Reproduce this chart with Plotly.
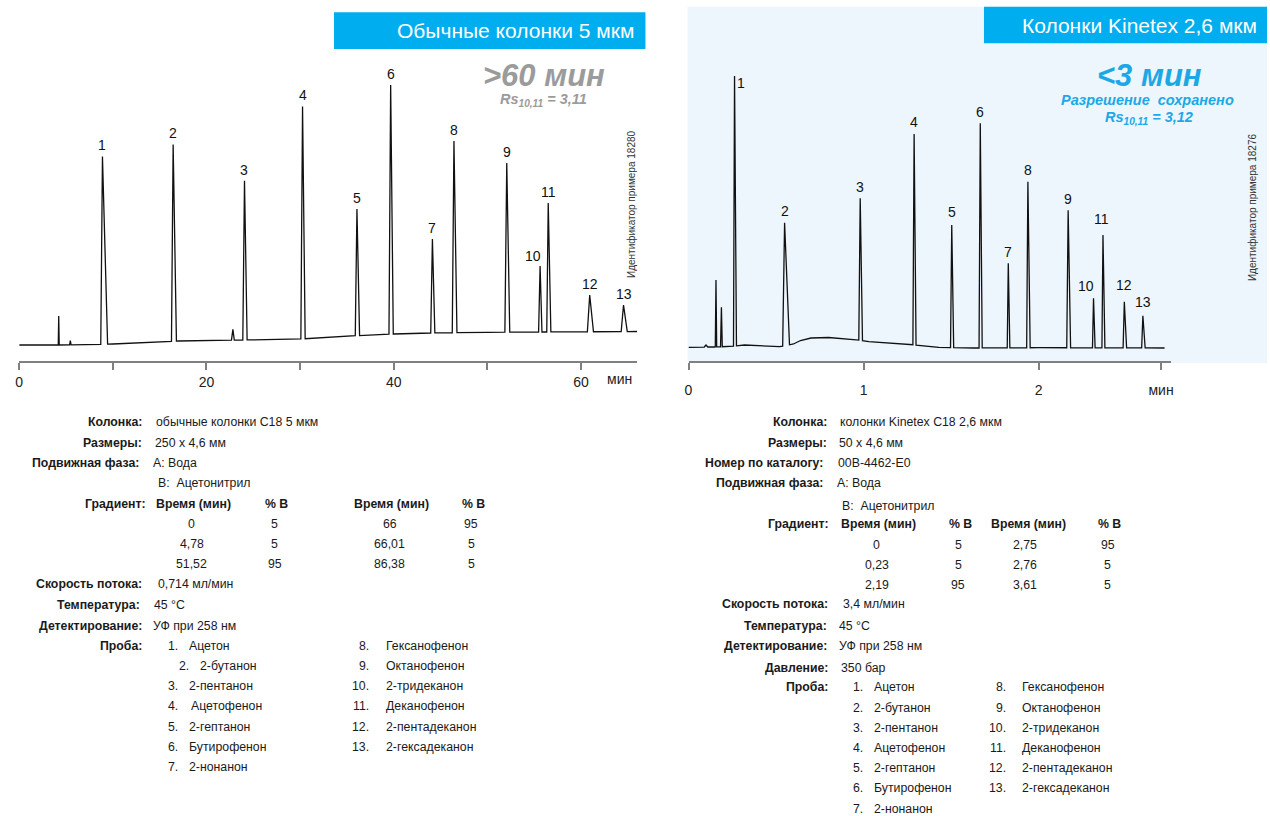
import numpy as np
import plotly.graph_objects as go

W, H = 1270, 816

# ---------------- DATA ----------------
# Left chromatogram (conventional 5 µm column), time in min, signal in arbitrary units
left_peak_labels = ["1", "2", "3", "4", "5", "6", "7", "8", "9", "10", "11", "12", "13"]
left_peak_times = [8.89, 16.44, 24.06, 30.26, 36.07, 39.67, 44.13, 46.43, 52.07, 55.63, 56.50, 60.93, 64.54]
left_peak_apex = [204.5, 216.5, 180.3, 254.5, 152.0, 276.0, 122.0, 220.0, 198.0, 95.0, 158.0, 66.0, 56.0]
left_peak_wl = [0.18, 0.18, 0.18, 0.18, 0.18, 0.18, 0.18, 0.18, 0.20, 0.16, 0.16, 0.25, 0.25]
left_peak_wr = [0.55, 0.35, 0.28, 0.28, 0.28, 0.28, 0.26, 0.32, 0.32, 0.20, 0.28, 0.40, 0.40]
left_minor_times = [4.22, 5.46, 22.82]
left_minor_apex = [45.0, 20.3, 31.7]
left_minor_w = [0.05, 0.08, 0.15]
left_base_t = [0, 4.0, 8.5, 10.0, 17.0, 24.0, 30.0, 36.0, 40.0, 44.0, 50.0, 56.0, 62.0, 66.0]
left_base_y = [16.0, 16.0, 16.5, 17.0, 20.0, 21.0, 22.0, 25.3, 27.0, 28.0, 28.7, 29.0, 29.3, 29.5]

# Right chromatogram (Kinetex 2.6 µm column)
right_peak_labels = ["1", "2", "3", "4", "5", "6", "7", "8", "9", "10", "11", "12", "13"]
right_peak_times = [0.263, 0.549, 0.981, 1.289, 1.504, 1.667, 1.827, 1.939, 2.169, 2.314, 2.368, 2.490, 2.596]
right_peak_apex = [285.0, 138.3, 162.7, 227.0, 136.0, 237.7, 97.7, 179.3, 150.7, 62.7, 126.0, 59.3, 45.3]
right_peak_wl = [0.006, 0.011, 0.008, 0.007, 0.007, 0.007, 0.006, 0.007, 0.008, 0.006, 0.006, 0.007, 0.007]
right_peak_wr = [0.011, 0.028, 0.013, 0.011, 0.011, 0.011, 0.009, 0.013, 0.014, 0.009, 0.011, 0.013, 0.013]
right_minor_times = [0.100, 0.157, 0.188]
right_minor_apex = [16.0, 81.0, 53.7]
right_minor_w = [0.01, 0.004, 0.005]
right_base_t = [0, 0.10, 0.15, 0.24, 0.32, 0.52, 0.60, 0.64, 0.70, 0.80, 0.90, 0.97, 1.03, 1.20, 1.43, 1.63, 2.00, 2.72]
right_base_y = [13.7, 14.0, 14.0, 14.5, 16.0, 14.3, 17.0, 20.5, 23.0, 23.5, 22.0, 21.0, 19.3, 17.7, 13.7, 13.0, 13.3, 13.0]

left_ticks = [0, 20, 40, 60]
left_ticktext = ["0", "20", "40", "60"]
left_minor_ticks = [10, 30, 50]
right_ticks = [0, 1, 2, 2.7]
right_ticktext = ["0", "1", "2", "мин"]

left_title = "Обычные колонки 5 мкм"
right_title = "Колонки Kinetex 2,6 мкм"
left_time_note = "&gt;60 мин"
left_rs = "Rs<sub>10,11</sub> = 3,11"
right_time_note = "&lt;3 мин"
right_res_note = "Разрешение  сохранено"
right_rs = "Rs<sub>10,11</sub> = 3,12"
left_id = "Идентификатор примера 18280"
right_id = "Идентификатор примера 18276"

left_info_labels = ["Колонка:", "Размеры:", "Подвижная фаза:", "Градиент:", "Скорость потока:", "Температура:", "Детектирование:", "Проба:"]
left_info_values = ["обычные колонки C18 5 мкм", "250 x 4,6 мм", "A: Вода", "", "0,714 мл/мин", "45 °C", "УФ при 258 нм", ""]
left_mobile_b = "B:  Ацетонитрил"
left_grad_time1 = ["0", "4,78", "51,52"]
left_grad_b1 = ["5", "5", "95"]
left_grad_time2 = ["66", "66,01", "86,38"]
left_grad_b2 = ["95", "5", "5"]

right_info_labels = ["Колонка:", "Размеры:", "Номер по каталогу:", "Подвижная фаза:", "Градиент:", "Скорость потока:", "Температура:", "Детектирование:", "Давление:", "Проба:"]
right_info_values = ["колонки Kinetex C18 2,6 мкм", "50 x 4,6 мм", "00B-4462-E0", "A: Вода", "", "3,4 мл/мин", "45 °C", "УФ при 258 нм", "350 бар", ""]
right_mobile_b = "B:  Ацетонитрил"
right_grad_time1 = ["0", "0,23", "2,19"]
right_grad_b1 = ["5", "5", "95"]
right_grad_time2 = ["2,75", "2,76", "3,61"]
right_grad_b2 = ["95", "5", "5"]

grad_headers = ["Время (мин)", "% B", "Время (мин)", "% B"]
sample_names = ["Ацетон", "2-бутанон", "2-пентанон", "Ацетофенон", "2-гептанон", "Бутирофенон", "2-нонанон",
                "Гексанофенон", "Октанофенон", "2-тридеканон", "Деканофенон", "2-пентадеканон", "2-гексадеканон"]

# ---------------- HELPERS ----------------
def X(px):
    return px / W

def Y(py):
    return 1 - py / H


def build_trace(base_t, base_y, times, apex, wl, wr):
    windows = [(t - a, t + b) for t, a, b in zip(times, wl, wr)]
    pts = []
    for t, y in zip(base_t, base_y):
        if not any(lo <= t <= hi for lo, hi in windows):
            pts.append((t, y))
    for t, a, l, r in zip(times, apex, wl, wr):
        pts.append((t - l, float(np.interp(t - l, base_t, base_y))))
        pts.append((t, a))
        pts.append((t + r, float(np.interp(t + r, base_t, base_y))))
    pts.sort(key=lambda p: p[0])
    return [p[0] for p in pts], [p[1] for p in pts]


FONT = "Liberation Sans"
NARROW = "Liberation Sans Narrow, Arial Narrow, Liberation Sans"
TXT = "#1a1a1a"
CYAN = "#00AEEF"
BS = 12.3  # info block font size

fig = go.Figure()

lx, ly = build_trace(left_base_t, left_base_y,
                     left_peak_times + left_minor_times, left_peak_apex + left_minor_apex,
                     left_peak_wl + left_minor_w, left_peak_wr + left_minor_w)
rx, ry = build_trace(right_base_t, right_base_y,
                     right_peak_times + right_minor_times, right_peak_apex + right_minor_apex,
                     right_peak_wl + right_minor_w, right_peak_wr + right_minor_w)

fig.add_trace(go.Scatter(x=lx, y=ly, mode="lines", line=dict(color="#111111", width=1.3),
                         xaxis="x", yaxis="y", hoverinfo="skip", showlegend=False))
fig.add_trace(go.Scatter(x=rx, y=ry, mode="lines", line=dict(color="#111111", width=1.3),
                         xaxis="x2", yaxis="y2", hoverinfo="skip", showlegend=False))

ydom = [Y(361), Y(60)]
axis_common = dict(showgrid=False, zeroline=False, showline=True, linecolor="#808080", linewidth=2,
                   ticks="outside", ticklen=7, tickwidth=1.5, tickcolor="#808080",
                   tickfont=dict(family=FONT, size=14, color="#222222"), fixedrange=True)

fig.update_layout(
    width=W, height=H, margin=dict(l=0, r=0, t=0, b=0),
    paper_bgcolor="white", plot_bgcolor="rgba(0,0,0,0)",
    xaxis=dict(domain=[X(15.3), X(636.7)], range=[0, 66], anchor="y",
               tickmode="array", tickvals=left_ticks, ticktext=left_ticktext,
               minor=dict(tickmode="array", tickvals=left_minor_ticks, ticks="outside", ticklen=7,
                          tickwidth=1.5, tickcolor="#808080", showgrid=False),
               **axis_common),
    yaxis=dict(domain=ydom, range=[0, 301], visible=False, anchor="x", fixedrange=True),
    xaxis2=dict(domain=[X(688.3), X(1173.3)], range=[0, 2.7557], anchor="y2",
                tickmode="array", tickvals=right_ticks, ticktext=right_ticktext,
                ticklabelstandoff=8, **axis_common),
    yaxis2=dict(domain=ydom, range=[0, 301], visible=False, anchor="x2", fixedrange=True),
)

shapes = [
    dict(type="rect", xref="paper", yref="paper", x0=X(687.3), x1=1, y0=Y(363), y1=Y(6.7),
         fillcolor="#EDF6FC", line=dict(width=0), layer="below"),
    dict(type="rect", xref="paper", yref="paper", x0=X(331.8), x1=X(645), y0=Y(49), y1=Y(12.3),
         fillcolor=CYAN, line=dict(width=0), layer="below"),
    dict(type="rect", xref="paper", yref="paper", x0=X(985.4), x1=1, y0=Y(43.3), y1=Y(6.7),
         fillcolor=CYAN, line=dict(width=0), layer="below"),
]
fig.update_layout(shapes=shapes)

ann = []

def txt(x, y, text, size=BS, anchor="left", color=TXT, family=NARROW, angle=0):
    ann.append(dict(xref="paper", yref="paper", x=X(x), y=Y(y), text=text, showarrow=False,
                    xanchor=anchor, yanchor="middle", textangle=angle,
                    font=dict(family=family, size=size, color=color)))

# titles
txt(636, 30.6, left_title, size=21, anchor="right", color="white")
txt(1262, 25, right_title, size=21, anchor="right", color="white")

# notes
txt(543, 75, "<b><i>" + left_time_note + "</i></b>", size=31, anchor="center", color="#9b9b9b", family=FONT)
txt(542, 99.5, "<b><i>" + left_rs + "</i></b>", size=14.5, anchor="center", color="#9b9b9b", family=FONT)
txt(1152, 75, "<b><i>" + right_time_note + "</i></b>", size=31, anchor="center", color="#1CA8E6", family=FONT)
txt(1150, 99.5, "<b><i>" + right_res_note + "</i></b>", size=14.5, anchor="center", color="#1CA8E6", family=FONT)
txt(1151, 118, "<b><i>" + right_rs + "</i></b>", size=14.5, anchor="center", color="#1CA8E6", family=FONT)

# sample ids
txt(630.5, 204, left_id, size=10, anchor="center", color="#333333", angle=-90)
txt(1255, 207, right_id, size=10, anchor="center", color="#333333", angle=-90)

# axis unit on left
txt(619, 379, "мин", size=14, anchor="center", color="#222222", family=FONT)

# peak labels
left_lab_shift = {"10": (-7, 10)}
right_lab_shift = {"1": (6, -7), "10": (-8, 12), "11": (-1, 16), "12": (0, 17), "13": (0, 14), "5": (0, 13)}
for lab, t, a in zip(left_peak_labels, left_peak_times, left_peak_apex):
    dx, dy = left_lab_shift.get(lab, (0, 11))
    ann.append(dict(xref="x", yref="y", x=t, y=a, text=lab, showarrow=False, xanchor="center",
                    yanchor="middle", xshift=dx, yshift=dy,
                    font=dict(family=FONT, size=14, color="#111111")))
for lab, t, a in zip(right_peak_labels, right_peak_times, right_peak_apex):
    dx, dy = right_lab_shift.get(lab, (0, 11.5))
    ann.append(dict(xref="x2", yref="y2", x=t, y=a, text=lab, showarrow=False, xanchor="center",
                    yanchor="middle", xshift=dx, yshift=dy,
                    font=dict(family=FONT, size=14, color="#111111")))

# ---------- left info block ----------
left_rows = [421.7, 442.7, 462.7, 504, 584.3, 604.7, 626, 646]
left_val_x = [151, 150, 148, None, 153, 149, 148, None]
left_lab_x = [141, 141, 138, 145, 141, 139, 141, 141]
for lab, val, y, vx, lx_ in zip(left_info_labels, left_info_values, left_rows, left_val_x, left_lab_x):
    txt(lx_, y, "<b>" + lab + "</b>", anchor="right")
    if val:
        txt(vx, y, val, anchor="left")
txt(153, 483.3, left_mobile_b)
for hx, h in zip([191, 274, 389.6, 472], grad_headers):
    txt(hx, 504, "<b>" + h + "</b>", anchor="center")
for i, y in enumerate([524, 544, 564]):
    txt(189, y, left_grad_time1[i], anchor="center")
    txt(272, y, left_grad_b1[i], anchor="center")
    txt(388, y, left_grad_time2[i], anchor="center")
    txt(470, y, left_grad_b2[i], anchor="center")
left_sample_y = [646, 666, 686, 706, 726.7, 746.7, 766.7]
left_num_x = [163, 174, 163, 163, 163, 163, 163]
left_name_x = [183.7, 194.7, 183.7, 186.5, 183.7, 183.7, 183.7]
for i in range(7):
    txt(left_num_x[i], left_sample_y[i], f"{i + 1}.")
    txt(left_name_x[i], left_sample_y[i], sample_names[i])
for i in range(6):
    txt(369, left_sample_y[i], f"{i + 8}.", anchor="right")
    txt(382.4, left_sample_y[i], sample_names[i + 7])

# ---------- right info block ----------
right_rows = [421.7, 442.7, 462.7, 482.7, 524, 604.3, 625.7, 646, 668.3, 687.3]
right_lab_x = [829.8, 829.8, 826, 826, 831.7, 830.5, 830, 830, 830.5, 830.5]
right_val_x = [839, 838, 837, 836, None, 841.8, 838, 838, 840, None]
for lab, val, y, vx, lx_ in zip(right_info_labels, right_info_values, right_rows, right_val_x, right_lab_x):
    txt(lx_, y, "<b>" + lab + "</b>", anchor="right")
    if val:
        txt(vx, y, val, anchor="left")
txt(841, 506, right_mobile_b)
for hx, h in zip([879, 961.7, 1029.7, 1112], grad_headers):
    txt(hx, 524, "<b>" + h + "</b>", anchor="center")
for i, y in enumerate([545, 565.3, 585]):
    txt(877.6, y, right_grad_time1[i], anchor="center")
    txt(959.6, y, right_grad_b1[i], anchor="center")
    txt(1027, y, right_grad_time2[i], anchor="center")
    txt(1110, y, right_grad_b2[i], anchor="center")
right_sample_y = [687.3, 708.3, 728.3, 748.3, 768.3, 788, 809.3]
for i in range(7):
    txt(852, right_sample_y[i], f"{i + 1}.")
    txt(872.7, right_sample_y[i], sample_names[i])
for i in range(6):
    txt(1010, right_sample_y[i], f"{i + 8}.", anchor="right")
    txt(1021.7, right_sample_y[i], sample_names[i + 7])

fig.update_layout(annotations=ann)
fig.write_html("out.html")
